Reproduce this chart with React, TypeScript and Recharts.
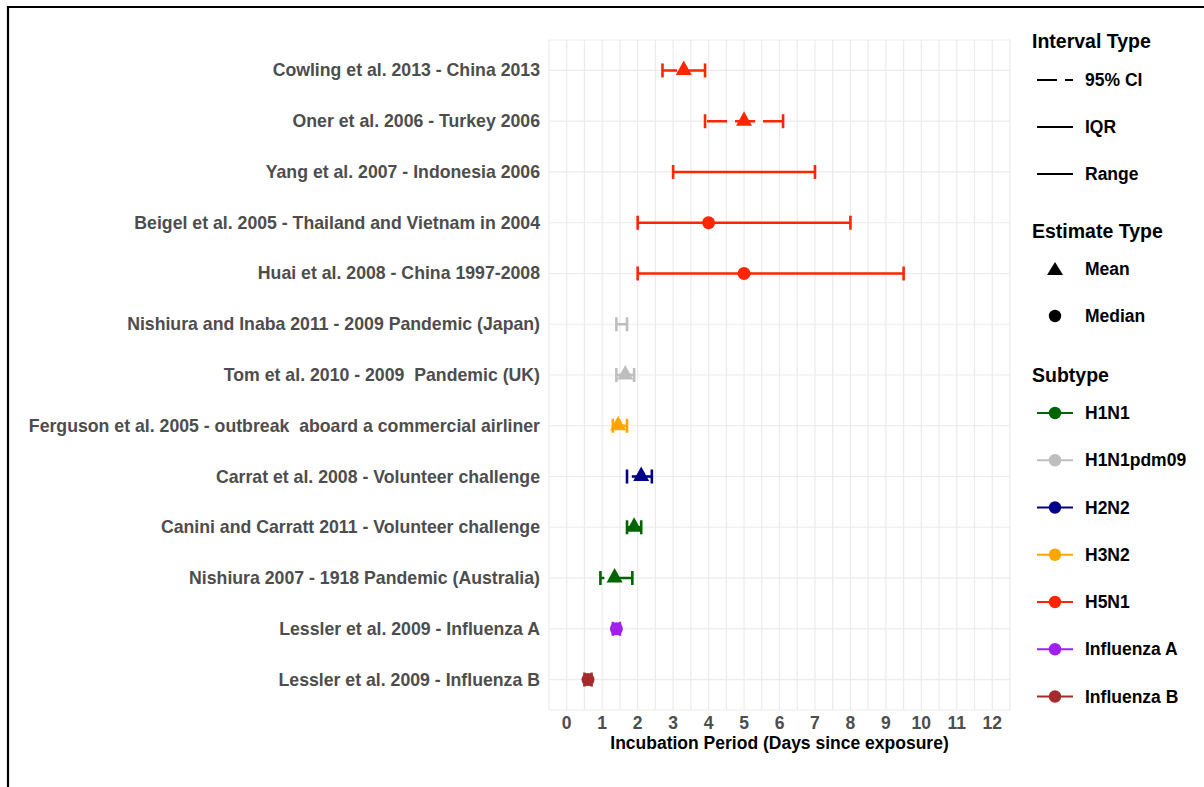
import React from "react";
import { ComposedChart, Scatter, XAxis, YAxis, CartesianGrid, Label } from "recharts";

// one row per study, top to bottom
const studies = [
  "Cowling et al. 2013 - China 2013",
  "Oner et al. 2006 - Turkey 2006",
  "Yang et al. 2007 - Indonesia 2006",
  "Beigel et al. 2005 - Thailand and Vietnam in 2004",
  "Huai et al. 2008 - China 1997-2008",
  "Nishiura and Inaba 2011 - 2009 Pandemic (Japan)",
  "Tom et al. 2010 - 2009  Pandemic (UK)",
  "Ferguson et al. 2005 - outbreak  aboard a commercial airliner",
  "Carrat et al. 2008 - Volunteer challenge",
  "Canini and Carratt 2011 - Volunteer challenge",
  "Nishiura 2007 - 1918 Pandemic (Australia)",
  "Lessler et al. 2009 - Influenza A",
  "Lessler et al. 2009 - Influenza B",
];
const subtypeOf = [
  "H5N1", "H5N1", "H5N1", "H5N1", "H5N1",
  "H1N1pdm09", "H1N1pdm09", "H3N2", "H2N2", "H1N1", "H1N1",
  "Influenza A", "Influenza B",
];
const estimates = [3.3, 5.0, null, 4.0, 5.0, null, 1.65, 1.45, 2.1, 1.9, 1.35, 1.4, 0.6];
const estimateTypes = ["Mean", "Mean", null, "Median", "Median", null, "Mean", "Mean", "Mean", "Mean", "Mean", "Median", "Median"];
const lower = [2.7, 3.9, 3.0, 2.0, 2.0, 1.4, 1.4, 1.3, 1.7, 1.7, 0.95, 1.3, 0.5];
const upper = [3.9, 6.1, 7.0, 8.0, 9.5, 1.7, 1.9, 1.7, 2.4, 2.1, 1.85, 1.5, 0.7];
const intervalTypes = ["95% CI", "95% CI", "Range", "Range", "Range", "95% CI", "95% CI", "95% CI", "95% CI", "95% CI", "95% CI", "95% CI", "95% CI"];

const subtypes = ["H1N1", "H1N1pdm09", "H2N2", "H3N2", "H5N1", "Influenza A", "Influenza B"];
const subtypeColors = ["#006400", "#BEBEBE", "#00008B", "#FFA500", "#FF2500", "#A020F0", "#A52A2A"];
const intervalLabels = ["95% CI", "IQR", "Range"];
const estimateLabels = ["Mean", "Median"];
const xTicks = [0, 1, 2, 3, 4, 5, 6, 7, 8, 9, 10, 11, 12];
const yTicks = studies.map((_, i) => i);

const FONT = "'Liberation Sans', Arial, Helvetica, sans-serif";
const DASH = "20 8";
const colorOf = (s: string) => subtypeColors[subtypes.indexOf(s)];

const gridX: number[] = [];
for (let v = -0.5; v <= 12.5; v += 0.5) gridX.push(v);

const markerData = (type: string) =>
  studies
    .map((_, i) => ({ x: estimates[i], y: i, type: estimateTypes[i], color: colorOf(subtypeOf[i]) }))
    .filter((d) => d.type === type);

const Triangle = (p: any) => (
  <polygon
    points={`${p.cx},${p.cy - 10} ${p.cx - 8},${p.cy + 4.5} ${p.cx + 8},${p.cy + 4.5}`}
    fill={p.payload.color}
  />
);
const Dot = (p: any) => <circle cx={p.cx} cy={p.cy} r={6.5} fill={p.payload.color} />;

const YTick = (p: any) => (
  <text
    x={p.x}
    y={p.y}
    textAnchor="end"
    dominantBaseline="central"
    fill="#4D4D4D"
    fontSize={17.7}
    fontWeight="bold"
    fontFamily={FONT}
    style={{ whiteSpace: "pre" }}
  >
    {studies[p.payload.value]}
  </text>
);

function LegendPanel() {
  const txt = { fontFamily: FONT, fontWeight: "bold" as const, fill: "#000" };
  const subY = (k: number) => 413 + k * 47.25;
  return (
    <svg width={1204} height={787} style={{ position: "absolute", left: 0, top: 0, pointerEvents: "none" }}>
      <text x={1032} y={48} fontSize={19.5} {...txt}>Interval Type</text>
      {intervalLabels.map((l, k) => {
        const y = 80 + k * 47;
        return (
          <g key={l}>
            <line x1={1037} x2={1073} y1={y} y2={y} stroke="#000" strokeWidth={2.2} strokeDasharray={l === "95% CI" ? DASH : undefined} />
            <text x={1085} y={y} dominantBaseline="central" fontSize={17.5} {...txt}>{l}</text>
          </g>
        );
      })}
      <text x={1032} y={238} fontSize={19.5} {...txt}>Estimate Type</text>
      {estimateLabels.map((l, k) => {
        const y = 269 + k * 47;
        return (
          <g key={l}>
            {l === "Mean" ? (
              <polygon points={`1055,${y - 7} 1047,${y + 6} 1063,${y + 6}`} fill="#000" />
            ) : (
              <circle cx={1055} cy={y} r={6.2} fill="#000" />
            )}
            <text x={1085} y={y} dominantBaseline="central" fontSize={17.5} {...txt}>{l}</text>
          </g>
        );
      })}
      <text x={1032} y={382} fontSize={19.5} {...txt}>Subtype</text>
      {subtypes.map((s, k) => (
        <g key={s}>
          <line x1={1037} x2={1073} y1={subY(k)} y2={subY(k)} stroke={subtypeColors[k]} strokeWidth={2.2} />
          <circle cx={1055} cy={subY(k)} r={6.2} fill={subtypeColors[k]} />
          <text x={1085} y={subY(k)} dominantBaseline="central" fontSize={17.5} {...txt}>{s}</text>
        </g>
      ))}
      <line x1={7} x2={1204} y1={7} y2={7} stroke="#000" strokeWidth={2.2} />
      <line x1={8} x2={8} y1={6} y2={787} stroke="#000" strokeWidth={2.2} />
    </svg>
  );
}

export default function App() {
  return (
    <div style={{ position: "fixed", left: 0, top: 0, width: 1204, height: 787, background: "#fff", overflow: "hidden" }}>
      <ComposedChart width={1204} height={787} margin={{ top: 40, right: 194, bottom: 57, left: 19 }}>
        <CartesianGrid stroke="#EBEBEB" strokeWidth={1.2} verticalValues={gridX} />
        <XAxis
          type="number"
          dataKey="x"
          domain={[-0.5, 12.5]}
          ticks={xTicks}
          interval={0}
          axisLine={false}
          tickLine={false}
          height={20}
          tickMargin={1}
          tick={{ fill: "#4D4D4D", fontSize: 17.5, fontWeight: "bold", fontFamily: FONT }}
        >
          <Label
            value="Incubation Period (Days since exposure)"
            position="bottom"
            offset={7}
            fill="#000"
            fontSize={17.5}
            fontWeight="bold"
            fontFamily={FONT}
          />
        </XAxis>
        <YAxis
          type="number"
          dataKey="y"
          domain={[-0.6, 12.6]}
          reversed
          ticks={yTicks}
          interval={0}
          axisLine={false}
          tickLine={false}
          width={530}
          tickMargin={3}
          tick={<YTick />}
        />
        {studies.map((s, i) => {
          const color = colorOf(subtypeOf[i]);
          return (
            <Scatter
              key={s}
              data={[{ x: upper[i], y: i }, { x: lower[i], y: i }]}
              fill={color}
              isAnimationActive={false}
              line={{ stroke: color, strokeWidth: 2.6, strokeDasharray: intervalTypes[i] === "95% CI" ? DASH : undefined }}
              shape={(p: any) => (
                <line x1={p.cx} x2={p.cx} y1={p.cy - 7} y2={p.cy + 7} stroke={color} strokeWidth={2.6} />
              )}
            />
          );
        })}
        <Scatter data={markerData("Mean")} isAnimationActive={false} shape={Triangle} />
        <Scatter data={markerData("Median")} isAnimationActive={false} shape={Dot} />
      </ComposedChart>
      <LegendPanel />
    </div>
  );
}
